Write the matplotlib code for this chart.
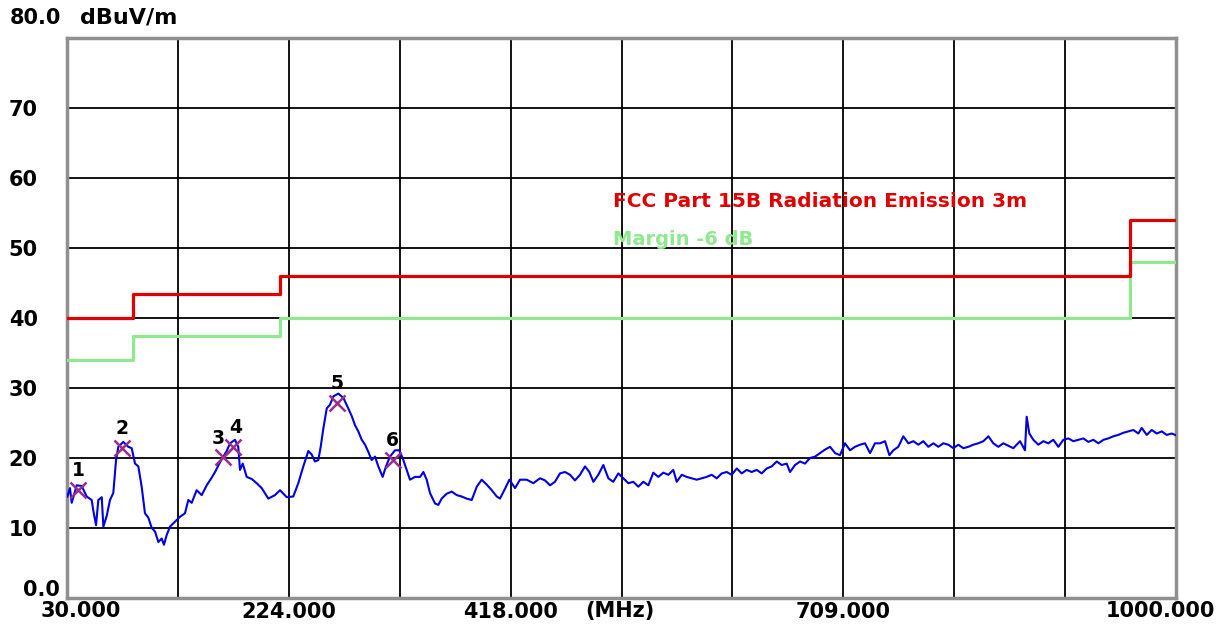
import numpy as np
import matplotlib.pyplot as plt

# limit line (FCC Part 15B, 3 m), step edges in MHz
limit_freq = [30, 88, 216, 960, 1000]
limit_db = [40, 43.5, 46, 54, 54]
margin_db = -6

trace_freq = [30.3, 32.6, 34.1, 38.5, 42.9, 47.2, 51.6, 53.0, 55.4, 57.4, 60.4, 61.8, 64.7, 67.6,
              70.5, 72.9, 74.9, 79.2, 83.6, 86.6, 89.5, 92.4, 95.3, 98.2, 101.1, 104.1, 107.0,
              109.9, 112.8, 114.8, 117.2, 120.1, 124.5, 128.8, 133.2, 136.1, 139.1, 143.4, 147.8,
              152.2, 156.6, 159.5, 163.2, 166.7, 169.7, 172.6, 176.9, 179.8, 181.3, 183.7, 187.2,
              191.6, 195.9, 200.3, 206.1, 211.9, 216.3, 222.2, 227.9, 232.3, 236.7, 241.1, 244.0,
              246.9, 249.8, 251.9, 254.2, 257.2, 260.0, 262.9, 267.3, 271.7, 276.0, 279.0, 281.9,
              284.8, 287.8, 290.7, 293.5, 296.5, 299.4, 302.3, 306.1, 309.0, 312.5, 316.9, 320.7,
              324.2, 327.1, 330.0, 334.4, 338.8, 341.7, 344.6, 347.5, 351.9, 354.8, 357.7, 362.1,
              366.5, 370.9, 375.2, 379.6, 384.0, 388.4, 392.7, 397.1, 401.5, 405.9, 408.7, 413.1,
              416.9, 421.9, 426.2, 432.1, 437.9, 443.7, 448.1, 452.5, 456.8, 461.2, 465.6, 470.0,
              474.3, 478.7, 483.1, 486.9, 490.4, 494.7, 499.1, 503.5, 507.8, 512.2, 516.6, 521.0,
              525.3, 529.7, 534.1, 538.5, 542.8, 547.2, 551.6, 556.0, 560.3, 563.3, 567.7, 572.0,
              576.4, 580.8, 585.2, 589.5, 593.9, 598.3, 602.7, 607.0, 611.4, 615.8, 620.2, 624.5,
              628.9, 633.3, 637.6, 642.0, 646.4, 650.8, 655.1, 659.5, 662.4, 666.8, 671.2, 675.5,
              679.9, 684.3, 688.6, 693.0, 697.4, 701.8, 706.1, 710.5, 714.9, 719.2, 723.6, 728.0,
              732.4, 736.7, 741.1, 745.5, 749.3, 752.8, 757.1, 761.5, 765.9, 770.3, 774.6, 779.0,
              783.4, 787.8, 792.1, 796.5, 800.9, 805.3, 809.6, 814.0, 818.4, 822.7, 827.1, 831.5,
              835.9, 840.2, 844.6, 849.0, 857.7, 863.6, 867.9, 869.4, 871.7, 875.2, 879.6, 884.0,
              888.3, 892.7, 897.1, 901.5, 905.8, 910.2, 914.6, 919.0, 923.3, 927.7, 932.1, 936.5,
              940.8, 945.2, 949.6, 953.9, 958.3, 962.7, 967.1, 970.0, 974.4, 978.8, 983.2, 987.5,
              991.9, 996.3, 999.2]
trace_db = [14.5, 15.7, 13.6, 16.1, 16.0, 14.5, 14.0, 12.5, 10.4, 14.0, 14.4, 10.2, 11.7, 14.0,
            15.0, 19.7, 21.6, 22.3, 21.6, 21.4, 19.2, 18.8, 15.9, 12.1, 11.5, 10.0, 9.5,
            8.0, 8.5, 7.6, 9.0, 10.2, 10.9, 11.6, 12.1, 14.0, 13.6, 15.4, 14.7,
            16.1, 17.2, 18.0, 19.2, 20.2, 21.0, 22.1, 22.6, 21.6, 18.3, 19.2, 17.3,
            17.0, 16.4, 15.7, 14.2, 14.7, 15.4, 14.4, 14.5, 16.4, 18.8, 21.0, 20.5,
            19.5, 19.7, 21.6, 24.2, 27.1, 27.6, 28.8, 29.2, 28.6, 27.1, 26.0, 24.7,
            23.8, 22.6, 21.9, 20.9, 19.7, 20.2, 18.8, 17.3, 18.8, 20.2, 21.1, 21.1,
            19.7, 18.3, 16.9, 17.3, 17.3, 18.0, 16.9, 15.0, 13.5, 13.3, 14.2, 14.9,
            15.2, 14.7, 14.5, 14.2, 14.0, 15.9, 16.9, 16.2, 15.4, 14.5, 14.2, 15.6,
            16.9, 15.7, 16.9, 16.9, 16.4, 17.1, 16.8, 16.1, 16.6, 17.8, 18.0, 17.6,
            16.8, 17.6, 18.8, 18.0, 16.6, 17.6, 19.0, 17.1, 16.6, 17.8, 17.1, 16.4,
            16.6, 15.9, 16.6, 16.1, 17.9, 17.3, 17.9, 17.6, 18.3, 16.6, 17.6, 17.3,
            17.1, 16.9, 17.1, 17.3, 17.6, 17.1, 17.8, 18.0, 17.6, 18.5, 17.8, 18.3,
            18.0, 18.3, 17.8, 18.5, 18.8, 19.5, 19.0, 19.2, 18.0, 19.0, 19.5, 19.2,
            20.0, 20.2, 20.7, 21.2, 21.6, 20.7, 20.4, 22.1, 21.1, 21.6, 21.9, 22.1,
            20.7, 22.1, 22.1, 22.4, 20.4, 21.1, 21.6, 23.1, 22.1, 22.4, 21.9, 22.4,
            21.6, 22.1, 21.6, 22.1, 21.9, 21.4, 21.9, 21.4, 21.6, 21.9, 22.1, 22.4,
            23.1, 22.1, 21.6, 22.1, 21.4, 22.4, 21.1, 25.9, 23.5, 22.6, 21.9, 22.4,
            22.1, 22.6, 21.6, 22.6, 22.8, 22.4, 22.6, 22.8, 22.3, 22.6, 22.1, 22.6,
            22.8, 23.1, 23.3, 23.6, 23.8, 24.0, 23.5, 24.3, 23.3, 24.0, 23.5, 23.8,
            23.3, 23.5, 23.3]

# peak markers
mark_id = ['1', '2', '3', '4', '5', '6']
mark_freq = [39.6, 77.8, 166.2, 175.5, 266.4, 314.9]
mark_db = [15.4, 21.4, 20.2, 21.6, 27.8, 19.7]
label_shift = {'3': (-3, 13), '4': (2, 14)}

x_grid = [30 + 97 * k for k in range(11)]
x_labels = ['', '', '224.000', '', '418.000', '', '', '709.000', '', '', '']

fig = plt.figure(figsize=(12.24, 6.29), dpi=100)
ax = fig.add_axes([67/1224, 1-598/629, 1109/1224, 560/629])

lim = np.array(limit_db)
ax.step(limit_freq, lim + margin_db, where='post', color='#90e890', lw=2.3, zorder=3)
ax.step(limit_freq, lim, where='post', color='#e00000', lw=2.3, zorder=4)
ax.plot(trace_freq, trace_db, color='#0000e0', lw=1.5, zorder=5)
ax.plot(mark_freq, mark_db, 'x', color='#9b2d8f', ms=11, mew=1.8, zorder=6)
for lab, f, d in zip(mark_id, mark_freq, mark_db):
    ax.annotate(lab, (f, d), xytext=label_shift.get(lab, (0, 14)), textcoords='offset points',
                ha='center', va='center', fontsize=13.5, fontweight='bold', zorder=7)

ax.set_xlim(30, 1000)
ax.set_ylim(0, 80)
ax.set_xticks(x_grid)
ax.set_xticklabels(x_labels)
ax.set_yticks(range(10, 80, 10))
ax.set_yticklabels([str(v) for v in range(10, 80, 10)])
ax.tick_params(length=0, labelsize=15)
ax.tick_params(axis='y', pad=21)
ax.tick_params(axis='x', pad=3)
for t in ax.get_xticklabels() + ax.get_yticklabels():
    t.set_fontweight('bold')
ax.grid(True, color='black', lw=1.3)
ax.set_axisbelow(True)
for s in ax.spines.values():
    s.set_color('#909090')
    s.set_linewidth(2.5)

bold = dict(fontsize=15, fontweight='bold', transform=ax.transAxes)
ax.text(-0.0514, 1.035, '80.0', ha='left', va='center', **bold)
ax.text(-0.006, 0.014, '0.0', ha='right', va='center', **bold)
ax.text(0.012, -0.024, '30.000', ha='center', va='center', **bold)
ax.text(1.035, -0.024, '1000.000', ha='right', va='center', **bold)
ax.text(0.467, -0.024, '(MHz)', ha='left', va='center', **bold)
ax.text(0.012, 1.037, 'dBuV/m', ha='left', va='center', fontsize=16,
        fontweight='bold', transform=ax.transAxes)

ax.text(0.492, 0.708, 'FCC Part 15B Radiation Emission 3m', color='#e00000',
        fontsize=14.5, fontweight='bold', transform=ax.transAxes, va='center')
ax.text(0.492, 0.64, 'Margin -6 dB', color='#90e890',
        fontsize=14, fontweight='bold', transform=ax.transAxes, va='center')

plt.savefig('out.png', dpi=100)
